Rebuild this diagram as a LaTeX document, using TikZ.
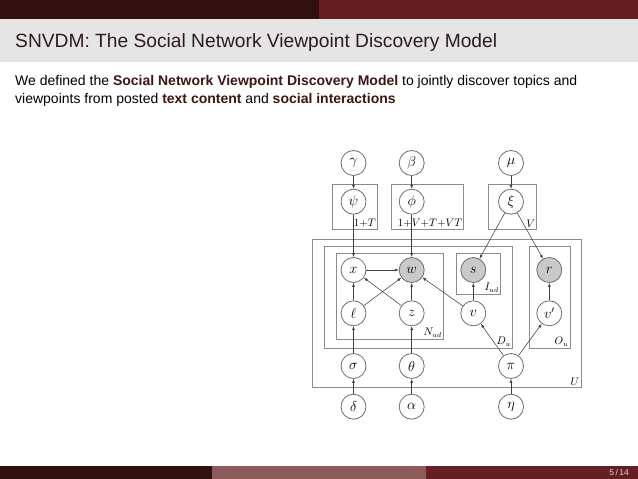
\documentclass[tikz,border=0pt]{standalone}
\usepackage{fontspec}
\setmainfont{Liberation Sans}
\usetikzlibrary{arrows.meta}
\definecolor{bardark}{HTML}{331010}
\definecolor{barred}{HTML}{651E21}
\definecolor{barmid}{HTML}{8C5A5A}
\definecolor{titlebg}{HTML}{E5E5E5}
\definecolor{titlefg}{HTML}{2E1C1C}
\definecolor{boldfg}{HTML}{3C1515}
\definecolor{linegray}{HTML}{6E6E6E}
\definecolor{obsfill}{HTML}{C9C9C9}
\tikzset{
  var/.style={circle, draw=linegray, line width=0.8pt, fill=white, minimum size=25pt, inner sep=0pt, font=\fontsize{14}{16}\selectfont},
  obs/.style={var, fill=obsfill},
  plate/.style={draw=linegray!80, line width=1pt},
  platelabel/.style={font=\fontsize{10.5}{12}\selectfont, inner sep=0pt},
  edge/.style={-{Latex[length=4pt,width=3pt]}, draw=black!75, line width=0.55pt}
}
\newcommand{\bt}[1]{\textcolor{boldfg}{\textbf{#1}}}
\begin{document}
\begin{tikzpicture}[x=1pt,y=-1pt]
\useasboundingbox (0,0) rectangle (638,479);
% header
\fill[bardark] (0,0) rectangle (319,19);
\fill[barred] (319,0) rectangle (638,19);
\fill[titlebg] (0,19) rectangle (638,62);
\node[anchor=west, text=titlefg, font=\fontsize{19.2}{22}\selectfont, inner sep=0pt] (title) at (15,42.5) {SNVDM: The Social Network Viewpoint Discovery Model};
\node[anchor=north west, align=left, font=\fontsize{14}{18}\selectfont, inner sep=0pt, text=black] (body) at (15,75.5)
 {We defined the \bt{Social Network Viewpoint Discovery Model} to jointly discover topics and\\
  viewpoints from posted \bt{text content} and \bt{social interactions}};
% footer
\fill[bardark] (0,466) rectangle (212,479);
\fill[barmid] (212,466) rectangle (426,479);
\fill[barred] (426,466) rectangle (638,479);
\node[text=white!80!barred, font=\fontsize{8.5}{10}\selectfont, anchor=east, inner sep=0pt] (page) at (629,472.5) {5\,/\,14};
% plates
\draw[plate] (332.3,184.3) rectangle (377.3,229.3);
\draw[plate] (391.7,184.3) rectangle (463.3,229.3);
\draw[plate] (488.3,184.3) rectangle (536.7,229.3);
\draw[plate] (312.3,239) rectangle (581,387.3);
\draw[plate] (324,246.7) rectangle (512.3,348.3);
\draw[plate] (336,253.3) rectangle (443.3,339.3);
\draw[plate] (456.7,253.3) rectangle (500,294);
\draw[plate] (529.3,246.7) rectangle (570,348.3);
\node[platelabel, anchor=south east] (lT) at (376,228) {$1{+}T$};
\node[platelabel, anchor=south east] (lV) at (462.5,228) {$1{+}V{+}T{+}VT$};
\node[platelabel, anchor=south east] (lVV) at (535.5,228) {$V$};
\node[platelabel, anchor=south east] (lN) at (442,337.5) {$N_{ud}$};
\node[platelabel, anchor=south east] (lI) at (499,292.5) {$I_{ud}$};
\node[platelabel, anchor=south east] (lD) at (511,346.5) {$D_u$};
\node[platelabel, anchor=south east] (lO) at (568.5,346.5) {$O_u$};
\node[platelabel, anchor=south east] (lU) at (579.5,385.5) {$U$};
% nodes
\node[var] (gamma) at (353.5,163) {$\gamma$};
\node[var] (beta) at (411.7,163) {$\beta$};
\node[var] (mu) at (511,163) {$\mu$};
\node[var] (psi) at (353.5,201.7) {$\psi$};
\node[var] (phi) at (411.7,201.7) {$\phi$};
\node[var] (xi) at (511,201.7) {$\xi$};
\node[var] (x) at (353.5,270) {$x$};
\node[obs] (w) at (411.7,270) {$w$};
\node[obs] (s) at (473.3,270) {$s$};
\node[obs] (r) at (549.3,270) {$r$};
\node[var] (l) at (353.5,313.3) {$\ell$};
\node[var] (z) at (411.7,313.3) {$z$};
\node[var] (v) at (473.3,313.3) {$v$};
\node[var] (vp) at (549.3,313.3) {$v'$};
\node[var] (sigma) at (353.5,366) {$\sigma$};
\node[var] (theta) at (411.7,366) {$\theta$};
\node[var] (pi) at (511,366) {$\pi$};
\node[var] (delta) at (353.5,406.7) {$\delta$};
\node[var] (alpha) at (411.7,406.7) {$\alpha$};
\node[var] (eta) at (511,406.7) {$\eta$};
% edges
\draw[edge] (gamma) -- (psi);
\draw[edge] (beta) -- (phi);
\draw[edge] (mu) -- (xi);
\draw[edge] (psi) -- (x);
\draw[edge] (phi) -- (w);
\draw[edge] (xi) -- (s);
\draw[edge] (xi) -- (r);
\draw[edge] (x) -- (w);
\draw[edge] (l) -- (x);
\draw[edge] (l) -- (w);
\draw[edge] (z) -- (x);
\draw[edge] (z) -- (w);
\draw[edge] (v) -- (w);
\draw[edge] (v) -- (s);
\draw[edge] (vp) -- (r);
\draw[edge] (sigma) -- (l);
\draw[edge] (theta) -- (z);
\draw[edge] (pi) -- (v);
\draw[edge] (pi) -- (vp);
\draw[edge] (delta) -- (sigma);
\draw[edge] (alpha) -- (theta);
\draw[edge] (eta) -- (pi);
\end{tikzpicture}
\end{document}
